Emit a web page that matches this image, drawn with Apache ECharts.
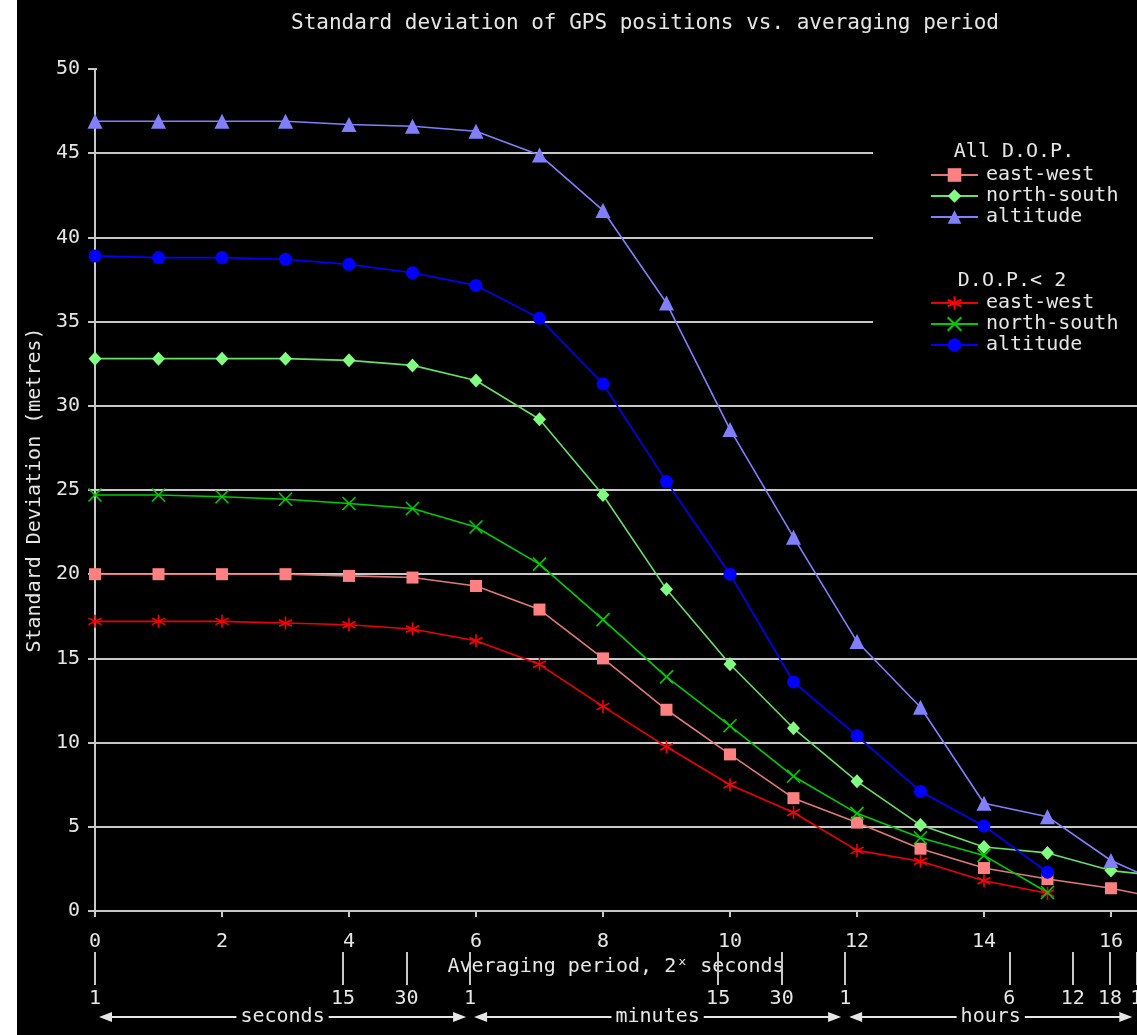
<!DOCTYPE html>
<html>
<head>
<meta charset="utf-8">
<title>Standard deviation of GPS positions vs. averaging period</title>
<script src="https://cdn.jsdelivr.net/npm/echarts@6/dist/echarts.min.js"></script>
<style>
  html, body { margin: 0; padding: 0; background: #fff; }
  #main { width: 1137px; height: 1035px; }
</style>
</head>
<body>
<div id="main"></div>
<script>
// x = log2 of averaging period in seconds
var periods = [0, 1, 2, 3, 4, 5, 6, 7, 8, 9, 10, 11, 12, 13, 14, 15, 16, 17];

// All D.O.P.
var ewAll  = [20.0, 20.0, 20.0, 20.0, 19.9, 19.8, 19.3, 17.9, 15.0, 11.95, 9.3, 6.7, 5.25, 3.7, 2.55, 1.9, 1.35, 0.6];
var nsAll  = [32.8, 32.8, 32.8, 32.8, 32.7, 32.4, 31.5, 29.2, 24.7, 19.1, 14.65, 10.85, 7.7, 5.1, 3.8, 3.45, 2.4, 2.0];
var altAll = [46.9, 46.9, 46.9, 46.9, 46.7, 46.6, 46.3, 44.9, 41.6, 36.1, 28.6, 22.2, 16.0, 12.1, 6.4, 5.6, 3.0, 1.3];

// D.O.P. < 2
var ewDop2  = [17.2, 17.2, 17.2, 17.1, 17.0, 16.75, 16.05, 14.65, 12.15, 9.75, 7.5, 5.85, 3.6, 2.95, 1.8, 1.05];
var nsDop2  = [24.7, 24.7, 24.6, 24.45, 24.2, 23.9, 22.8, 20.6, 17.3, 13.9, 11.0, 8.0, 5.8, 4.35, 3.3, 1.1];
var altDop2 = [38.9, 38.8, 38.8, 38.7, 38.4, 37.9, 37.15, 35.2, 31.3, 25.5, 20.0, 13.6, 10.4, 7.1, 5.05, 2.3];

// secondary time scale (seconds) and its labels
var timeSeconds = [1, 15, 30, 60, 900, 1800, 3600, 21600, 43200, 64800, 86400];
var timeLabels  = ['1', '15', '30', '1', '15', '30', '1', '6', '12', '18', '1'];
var spanBounds  = [1, 60, 3600, 86400];
var spanLabels  = ['seconds', 'minutes', 'hours'];

var xTicks = [0, 2, 4, 6, 8, 10, 12, 14, 16];

var FONT = 'DejaVu Sans Mono';
var FS = 20;
var FG = '#e6e6e6';
var GRIDC = '#c8c8c8';

function pairs(arr) {
  return arr.map(function (v, i) { return [periods[i], v]; });
}
var timePos = timeSeconds.map(function (s) { return Math.log2(s); });

var xMark = 'path://M0,0 L10,10 M10,0 L0,10';
var starMark = 'path://M5,0 L5,10 M0.7,2.5 L9.3,7.5 M9.3,2.5 L0.7,7.5';

function lineSeries(name, data, lineColor, markColor, symbol, size, stroke) {
  return {
    name: name,
    type: 'line',
    data: pairs(data),
    symbol: symbol,
    symbolSize: size,
    showAllSymbol: true,
    lineStyle: { color: lineColor, width: 1.6 },
    itemStyle: stroke
      ? { color: markColor, borderColor: markColor, borderWidth: 1.6 }
      : { color: markColor, borderWidth: 0 },
    emphasis: { disabled: true },
    z: 3
  };
}

var chart = echarts.init(document.getElementById('main'));

var option = {
  backgroundColor: '#000',
  animation: false,
  textStyle: { fontFamily: FONT, color: FG },
  title: {
    text: 'Standard deviation of GPS positions vs. averaging period',
    left: 640,
    top: 8,
    textAlign: 'center',
    textStyle: { fontFamily: FONT, fontSize: 21, fontWeight: 'normal', color: FG }
  },
  grid: { left: 95, right: 0, top: 69, bottom: 124, containLabel: false, outerBoundsMode: 'none' },
  xAxis: [
    {
      type: 'value',
      min: 0,
      max: 16.41,
      name: 'Averaging period, 2ˣ seconds',
      nameLocation: 'middle',
      nameGap: 43,
      nameTextStyle: { fontFamily: FONT, fontSize: FS, color: FG },
      axisLine: { show: true, lineStyle: { color: GRIDC, width: 2 } },
      axisTick: { show: true, customValues: xTicks, length: 6, lineStyle: { color: GRIDC, width: 2 } },
      axisLabel: { customValues: xTicks, margin: 21, fontFamily: FONT, fontSize: FS, color: FG },
      splitLine: { show: false }
    },
    {
      type: 'value',
      position: 'bottom',
      offset: 41,
      min: 0,
      max: 16.41,
      axisLine: { show: false },
      axisTick: { show: true, customValues: timePos, length: 33, lineStyle: { color: GRIDC, width: 2 } },
      axisLabel: {
        customValues: timePos,
        margin: 37,
        fontFamily: FONT,
        fontSize: FS,
        color: FG,
        hideOverlap: false,
        formatter: function (v) {
          var best = 0;
          for (var i = 1; i < timePos.length; i++) {
            if (Math.abs(timePos[i] - v) < Math.abs(timePos[best] - v)) best = i;
          }
          return timeLabels[best];
        }
      },
      splitLine: { show: false }
    }
  ],
  yAxis: {
    type: 'value',
    min: 0,
    max: 50,
    interval: 5,
    name: 'Standard Deviation (metres)',
    nameLocation: 'middle',
    nameGap: 45,
    nameTextStyle: { fontFamily: FONT, fontSize: FS, color: FG },
    axisLine: { show: true, lineStyle: { color: GRIDC, width: 2 } },
    axisTick: { show: true, length: 7, lineStyle: { color: GRIDC, width: 2 } },
    axisLabel: { margin: 15, fontFamily: FONT, fontSize: FS, color: FG },
    splitLine: { show: true, lineStyle: { color: GRIDC, width: 2 } }
  },
  legend: [
    {
      orient: 'vertical',
      left: 925,
      top: 160,
      itemWidth: 47,
      itemHeight: 17,
      itemGap: 1,
      selectedMode: false,
      data: ['all|east-west', 'all|north-south', 'all|altitude'],
      formatter: function (n) { return n.split('|')[1]; },
      textStyle: { fontFamily: FONT, fontSize: FS, color: FG, padding: [0, 0, 0, 3] }
    },
    {
      orient: 'vertical',
      left: 925,
      top: 288,
      itemWidth: 47,
      itemHeight: 17,
      itemGap: 1,
      selectedMode: false,
      data: ['dop|east-west', 'dop|north-south', 'dop|altitude'],
      formatter: function (n) { return n.split('|')[1]; },
      textStyle: { fontFamily: FONT, fontSize: FS, color: FG, padding: [0, 0, 0, 3] }
    }
  ],
  series: [
    lineSeries('all|east-west', ewAll, '#e07a7a', '#ff8080', 'rect', 12, false),
    lineSeries('all|north-south', nsAll, '#66e066', '#80ff80', 'diamond', [13, 14], false),
    lineSeries('all|altitude', altAll, '#8080ff', '#8080ff', 'triangle', 15, false),
    lineSeries('dop|east-west', ewDop2, '#ee0000', '#ff0000', starMark, 13, true),
    lineSeries('dop|north-south', nsDop2, '#00cc00', '#00cc00', xMark, 13, true),
    lineSeries('dop|altitude', altDop2, '#0000ff', '#0000ff', 'circle', 13, false)
  ]
};

chart.setOption(option);

// extra drawing: left margin strip, gridline covers, legend headers, time spans
var fontStr = FS + 'px "' + FONT + '"';
var g = [
  { type: 'rect', z: 10, shape: { x: 0, y: 0, width: 17, height: 1035 }, style: { fill: '#fff' } },
  { type: 'rect', z: 1, shape: { x: 97, y: 60, width: 1040, height: 16 }, style: { fill: '#000' } },
  { type: 'rect', z: 1, shape: { x: 873, y: 140, width: 264, height: 195 }, style: { fill: '#000' } },
  { type: 'text', z: 5, x: 1014, y: 152, style: { text: 'All D.O.P.', fill: FG, font: fontStr, align: 'center', verticalAlign: 'middle' } },
  { type: 'text', z: 5, x: 1012, y: 281, style: { text: 'D.O.P.< 2', fill: FG, font: fontStr, align: 'center', verticalAlign: 'middle' } }
];

var ay = 1017;
for (var i = 0; i < spanLabels.length; i++) {
  var x1 = chart.convertToPixel({ xAxisIndex: 0 }, Math.log2(spanBounds[i])) + 4;
  var x2 = chart.convertToPixel({ xAxisIndex: 0 }, Math.log2(spanBounds[i + 1])) - 4;
  g.push({ type: 'line', z: 5, shape: { x1: x1 + 10, y1: ay, x2: x2 - 10, y2: ay }, style: { stroke: FG, lineWidth: 2 } });
  g.push({ type: 'polygon', z: 5, shape: { points: [[x1, ay], [x1 + 13, ay - 5], [x1 + 13, ay + 5]] }, style: { fill: FG } });
  g.push({ type: 'polygon', z: 5, shape: { points: [[x2, ay], [x2 - 13, ay - 5], [x2 - 13, ay + 5]] }, style: { fill: FG } });
  g.push({
    type: 'text', z: 6, x: (x1 + x2) / 2, y: ay,
    style: {
      text: spanLabels[i], fill: FG, font: fontStr,
      align: 'center', verticalAlign: 'middle', backgroundColor: '#000', padding: [0, 4]
    }
  });
}

chart.setOption({ graphic: g });

window.addEventListener('resize', function () {
  chart.resize();
});
</script>
</body>
</html>
